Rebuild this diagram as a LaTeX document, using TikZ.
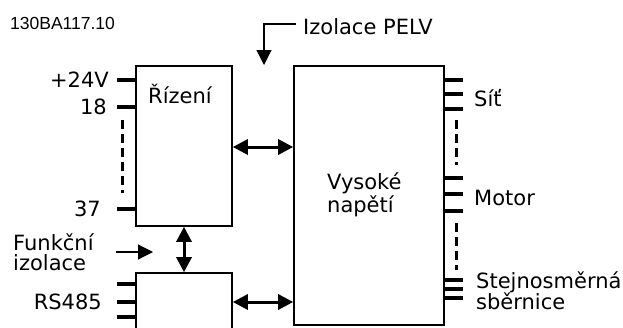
\documentclass[tikz,border=0pt]{standalone}
\usepackage{fontspec}
\setmainfont{DejaVu Sans}
\newfontfamily\codefont{Liberation Sans}
\usetikzlibrary{arrows.meta}
\tikzset{
  blockbox/.style={draw=black, line width=1.6pt, inner sep=0pt},
  tick/.style={line width=3.2pt},
  dashline/.style={line width=3pt, dash pattern=on 9pt off 5pt},
  bigarrow/.style={line width=3pt, {Triangle[length=15pt,width=15pt]}-{Triangle[length=15pt,width=15pt]}},
  thinarrow/.style={line width=1.1pt, -{Triangle[length=15pt,width=15pt]}},
  lbl/.style={font=\fontsize{21pt}{21pt}\selectfont, inner sep=0pt},
}
\begin{document}
\begin{tikzpicture}[x=1pt,y=-1pt]
\useasboundingbox (0,0) rectangle (623,327);
\clip (0,0) rectangle (623,327);
% boxes
\node[blockbox, minimum width=96pt, minimum height=160pt] (rizeni) at (184,146) {};
\node[blockbox, minimum width=96pt, minimum height=80pt] (rs) at (184,313) {};
\node[blockbox, minimum width=150pt, minimum height=259pt] (hv) at (369,195.5) {};
% id text
\node[font=\codefont\fontsize{17.5pt}{18pt}\selectfont, inner sep=0pt, anchor=base west] (id) at (10,29) {130BA117.10};
% labels inside
\node[lbl, anchor=base west] (rl) at (148,103) {Řízení};
\node[lbl, anchor=base west] (v1) at (327,189) {Vysoké};
\node[lbl, anchor=base west] (v2) at (327,212) {napětí};
% left ticks Rizeni
\coordinate (t1) at (117,80);
\coordinate (t2) at (117,107);
\coordinate (t3) at (117,209);
\draw[tick] (t1) -- (rizeni.west |- t1);
\draw[tick] (t2) -- (rizeni.west |- t2);
\draw[tick] (t3) -- (rizeni.west |- t3);
\coordinate (d1a) at (122.5,120);
\coordinate (d1b) at (122.5,193);
\draw[dashline] (d1a) -- (d1b);
\node[lbl, anchor=east] (l24) at (109,80) {+24V};
\node[lbl, anchor=east] (l18) at (107,107) {18};
\node[lbl, anchor=east] (l37) at (101,209) {37};
% RS485 ticks
\coordinate (r1) at (117,284);
\coordinate (r2) at (117,302);
\coordinate (r3) at (117,317);
\draw[tick] (r1) -- (rs.west |- r1);
\draw[tick] (r2) -- (rs.west |- r2);
\draw[tick] (r3) -- (rs.west |- r3);
\node[lbl, anchor=east] (lrs) at (102,302) {RS485};
% arrows
\coordinate (a1) at (232,147);
\draw[bigarrow] (rizeni.east |- a1) -- (hv.west |- a1);
\coordinate (a2) at (232,302);
\draw[bigarrow] (rs.east |- a2) -- (hv.west |- a2);
\draw[bigarrow] (rizeni.south) -- (rs.north);
% funkcni izolace
\node[lbl, anchor=base west] (f1) at (13,250) {Funkční};
\node[lbl, anchor=base west] (f2) at (13,270) {izolace};
\coordinate (fa) at (116,252);
\coordinate (fb) at (153,252);
\draw[thinarrow] (fa) -- (fb);
% PELV
\node[lbl, anchor=base west] (pelv) at (303,34) {Izolace PELV};
\coordinate (p1) at (296,24);
\coordinate (p2) at (264,24);
\coordinate (p3) at (264,65);
\draw[thinarrow] (p1) -- (p2) -- (p3);
% right ticks
\foreach \y in {80,94,109,178,194,211,280,289,298}{
  \draw[tick] (hv.east |- 0,\y) -- (463,\y);
}
\coordinate (d2a) at (456,120);
\coordinate (d2b) at (456,165);
\coordinate (d3a) at (456,223);
\coordinate (d3b) at (456,270);
\draw[dashline] (d2a) -- (d2b);
\draw[dashline] (d3a) -- (d3b);
\node[lbl, anchor=base west] (sit) at (474,106) {Síť};
\node[lbl, anchor=base west] (mot) at (474,205) {Motor};
\node[lbl, anchor=base west] (st1) at (476,288) {Stejnosměrná};
\node[lbl, anchor=base west] (st2) at (476,309) {sběrnice};
\end{tikzpicture}
\end{document}
